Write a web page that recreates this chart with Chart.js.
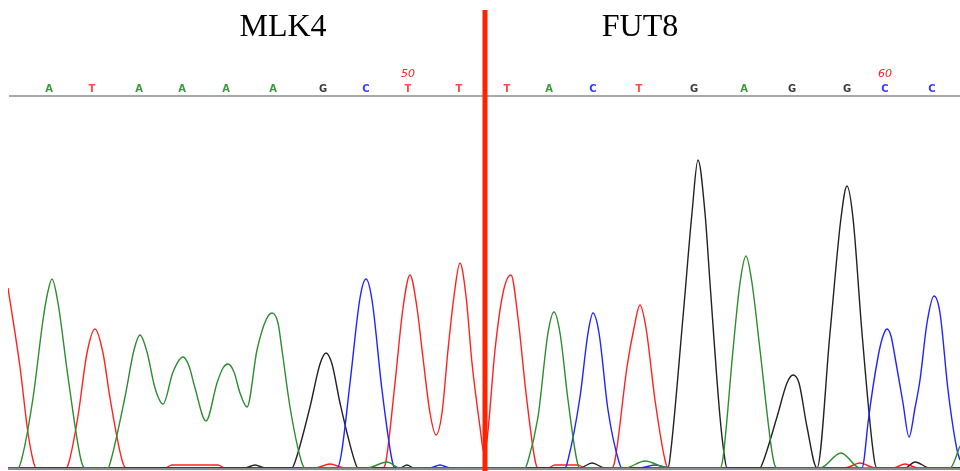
<!DOCTYPE html>
<html>
<head>
<meta charset="utf-8">
<title>MLK4 / FUT8 chromatogram</title>
<script src="https://cdn.jsdelivr.net/npm/chart.js@4.4.1/dist/chart.umd.min.js"></script>
<style>
    html, body { margin: 0; padding: 0; background: #fff; }
    #wrap { width: 960px; height: 471px; position: relative; }
</style>
</head>
<body>
<div id="wrap"><canvas id="trace"></canvas></div>
<script>
// 读出的峰形数据 [扫描位置, 信号强度]
const traceA = [[8,0],[18,0],[22,10],[33,70],[43,148],[47,172],[52,189],[58,165],[68,91],[81,8],[85,0],
    [108,0],[111,8],[125,71],[134,118],[140,133],[147,116],[155,80],[163,64],[173,96],[183,111],[189,102],[195,80],[206,47],[217,85],[223,100],[228,104],[234,96],[240,75],[247,61],[257,118],[266,148],[272,155],[278,145],[282,118],[290,61],[301,8],[305,0],
    [367,0],[387,6],[400,0],
    [525,0],[528,7],[538,51],[548,135],[554,156],[560,135],[568,68],[577,7],[580,0],
    [625,0],[645,7],[668,0],
    [720,0],[723,10],[733,118],[740,185],[746,212],[752,185],[760,118],[773,10],[777,0],
    [820,0],[841,15],[860,0],[950,0],[960,22]];
const traceC = [[8,0],[337,0],[341,12],[350,85],[360,170],[366,189],[372,168],[382,78],[392,8],[395,0],
    [430,0],[440,3],[450,0],
    [565,0],[568,8],[580,71],[588,135],[593,155],[599,135],[608,58],[619,6],[622,0],
    [640,0],[655,3],[670,0],
    [862,0],[864,8],[868,45],[878,111],[883,132],[887,139],[891,132],[895,111],[903,65],[909,31],[915,60],[920,88],[927,145],[934,172],[940,155],[948,78],[957,18],[960,8]];
const traceG = [[8,0],[245,0],[255,3],[265,0],
    [292,0],[295,6],[310,61],[320,104],[326,115],[332,104],[340,65],[355,6],[358,0],
    [400,0],[407,3],[414,0],[580,0],[592,5],[605,0],
    [668,0],[670,10],[683,151],[692,255],[698,308],[705,255],[710,185],[720,51],[725,8],[727,0],
    [760,0],[763,6],[777,51],[787,85],[793,93],[799,85],[807,41],[817,0],
    [830,135],[841,250],[847,282],[853,250],[862,135],[874,10],[877,0],
    [905,0],[915,6],[930,0],[960,0]];
const traceT = [[8,180],[20,101],[28,35],[33,8],[36,0],
    [66,0],[69,6],[78,52],[87,115],[95,139],[103,115],[110,70],[122,8],[126,0],
    [165,0],[172,3],[218,3],[225,0],
    [315,0],[330,4],[345,0],
    [383,0],[386,7],[395,85],[403,160],[410,193],[417,160],[423,110],[430,55],[436,33],
    [442,55],[448,118],[454,172],[460,205],[466,172],[472,105],[480,41],[484,15],[487,28],
    [495,118],[503,175],[511,193],[518,150],[526,75],[535,8],[538,0],
    [548,0],[555,3],[578,3],[585,0],
    [612,0],[615,8],[627,101],[634,140],[640,163],[646,140],[655,68],[665,8],[668,0],
    [845,0],[860,5],[875,0],[893,0],[905,4],[918,0],[960,0]];

const baseLetters = ['A','T','A','A','A','A','G','C','T','T','T','A','C','T','G','A','G','G','C','C'];
const basePositions = [49,92,139,182,226,273,323,366,408,459,507,549,593,639,694,744,792,847,885,932];
const positionLabels = ['50', '60'];
const positionTicks = [408, 885];
const geneNames = ['MLK4', 'FUT8'];
const geneCenters = [283, 640];
const junction = 485;

const baseColors = { A: '#3a9a3a', C: '#3a3aff', G: '#3a3a3a', T: '#ff4a4a' };

function toPoints(pairs) {
    return pairs.map(p => ({ x: p[0], y: p[1] }));
}

function makeSet(label, pairs, color) {
    return {
        label: label,
        data: toPoints(pairs),
        borderColor: color,
        borderWidth: 1.4,
        pointRadius: 0,
        fill: false,
        cubicInterpolationMode: 'monotone'
    };
}

const decorations = {
    id: 'decorations',
    beforeDatasetsDraw(chart) {
        const ctx = chart.ctx;
        const xs = chart.scales.x;
        const area = chart.chartArea;
        ctx.save();
        // 顶部灰线和基线
        ctx.strokeStyle = '#a8a8a8';
        ctx.lineWidth = 2;
        ctx.beginPath();
        ctx.moveTo(area.left + 1, area.top);
        ctx.lineTo(area.right, area.top);
        ctx.stroke();
        ctx.strokeStyle = '#8c8c8c';
        ctx.beginPath();
        ctx.moveTo(area.left, area.bottom + 1);
        ctx.lineTo(area.right, area.bottom + 1);
        ctx.stroke();

        // 碱基序列
        ctx.font = 'bold 10px "DejaVu Sans", sans-serif';
        ctx.textAlign = 'center';
        ctx.textBaseline = 'alphabetic';
        baseLetters.forEach((b, i) => {
            ctx.fillStyle = baseColors[b];
            ctx.fillText(b, xs.getPixelForValue(basePositions[i]), 92);
        });
        ctx.font = 'italic 11px "DejaVu Sans", sans-serif';
        ctx.fillStyle = '#ff2020';
        positionLabels.forEach((t, i) => {
            ctx.fillText(t, xs.getPixelForValue(positionTicks[i]), 77);
        });

        // 基因名称
        ctx.font = '32px "Liberation Serif", "Times New Roman", serif';
        ctx.fillStyle = '#000';
        geneNames.forEach((g, i) => {
            ctx.fillText(g, xs.getPixelForValue(geneCenters[i]), 36);
        });
        ctx.restore();
    },
    afterDatasetsDraw(chart) {
        const ctx = chart.ctx;
        const x = chart.scales.x.getPixelForValue(junction);
        ctx.save();
        ctx.fillStyle = '#ff2200';
        ctx.fillRect(x - 2.5, 10, 5, chart.height - 10);
        ctx.restore();
    }
};

const chart = new Chart(document.getElementById('trace'), {
    type: 'line',
    data: {
        datasets: [
            makeSet('A', traceA, '#2e8b2e'),
            makeSet('C', traceC, '#2222ff'),
            makeSet('G', traceG, '#222222'),
            makeSet('T', traceT, '#ff2222')
        ]
    },
    options: {
        responsive: true,
        maintainAspectRatio: false,
        animation: false,
        layout: { padding: { top: 96, left: 8, right: 0, bottom: 3 } },
        plugins: {
            legend: { display: false },
            tooltip: { enabled: false }
        },
        scales: {
            x: { type: 'linear', min: 8, max: 960, display: false },
            y: { min: 0, max: 372, display: false }
        }
    },
    plugins: [decorations]
});
</script>
</body>
</html>
